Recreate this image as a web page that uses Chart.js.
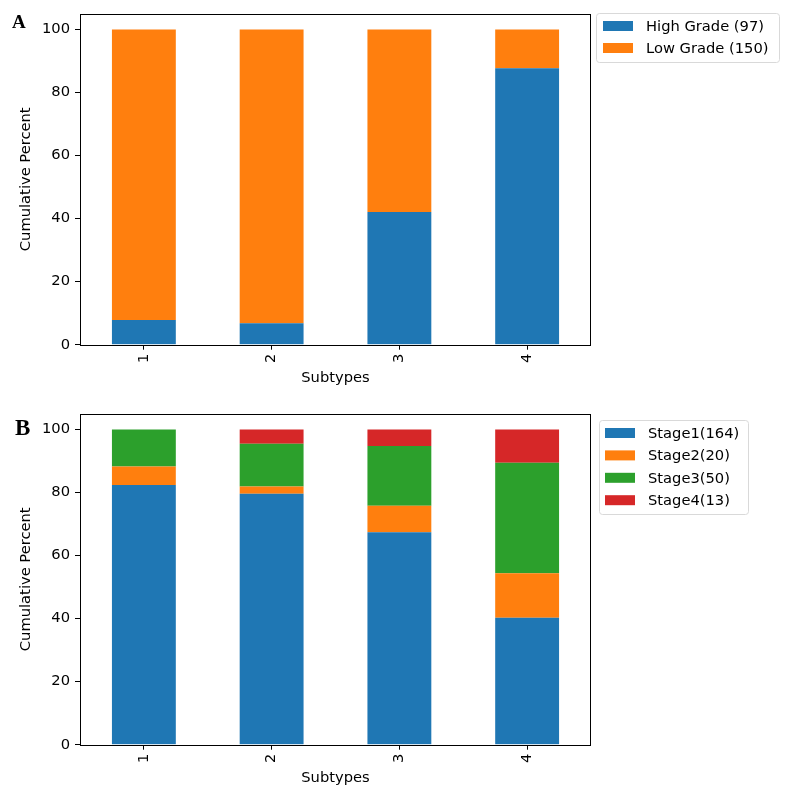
<!DOCTYPE html>
<html>
<head>
<meta charset="utf-8">
<script src="https://cdn.jsdelivr.net/npm/chart.js@4/dist/chart.umd.min.js"></script>
<style>
  html, body { margin: 0; padding: 0; background: #fff; overflow: hidden; }
  .panel { position: absolute; left: 0; width: 792px; height: 400px; }
  .lbl { position: absolute; font-family: "Liberation Serif", "DejaVu Serif", serif; font-weight: bold; color: #000; line-height: 1; }
</style>
</head>
<body>
<div class="panel" style="top:0"><canvas id="c1" width="792" height="400"></canvas></div>
<div class="panel" style="top:400px"><canvas id="c2" width="792" height="400"></canvas></div>
<div class="lbl" style="left:12px; top:12px; font-size:19px;">A</div>
<div class="lbl" style="left:15px; top:416px; font-size:23px;">B</div>
<script>
// ---- data ----
const subtypes = ['1', '2', '3', '4'];
const gradeLabels = ['High Grade (97)', 'Low Grade (150)'];
const highGrade = [7.8, 6.8, 42.1, 87.7];
const lowGrade = [92.2, 93.2, 57.9, 12.3];
const stageLabels = ['Stage1(164)', 'Stage2(20)', 'Stage3(50)', 'Stage4(13)'];
const stage1 = [82.4, 79.6, 67.4, 40.3];
const stage2 = [5.9, 2.3, 8.4, 14.1];
const stage3 = [11.7, 13.6, 19.0, 35.1];
const stage4 = [0.0, 4.5, 5.2, 10.5];
const yTicks = [0, 20, 40, 60, 80, 100];

const colors = ['#1f77b4', '#ff7f0e', '#2ca02c', '#d62728'];
const FONT = 'DejaVu Sans';
const FS = 14.7;

function framePlugin(legendBox) {
  return {
    id: 'frame',
    afterDraw(chart) {
      const ctx = chart.ctx;
      const a = chart.chartArea;
      ctx.save();
      ctx.strokeStyle = '#000';
      ctx.lineWidth = 1;
      ctx.strokeRect(Math.round(a.left) + 0.5, Math.round(a.top) + 0.5,
                     Math.round(a.right - a.left) - 1, Math.round(a.bottom - a.top));
      // legend
      const b = legendBox;
      ctx.fillStyle = 'rgba(255,255,255,0.8)';
      ctx.strokeStyle = '#d9d9d9';
      ctx.lineWidth = 1;
      ctx.beginPath();
      if (ctx.roundRect) ctx.roundRect(b.x + 0.5, b.y + 0.5, b.w, b.h, 3);
      else ctx.rect(b.x + 0.5, b.y + 0.5, b.w, b.h);
      ctx.fill();
      ctx.stroke();
      ctx.font = FS + 'px "' + FONT + '"';
      ctx.textBaseline = 'middle';
      ctx.textAlign = 'left';
      chart.data.datasets.forEach((ds, i) => {
        const cy = b.firstY + i * b.step;
        ctx.fillStyle = ds.backgroundColor;
        ctx.fillRect(b.px, cy - 5, 30, 10);
        ctx.fillStyle = '#000';
        ctx.fillText(ds.label, b.tx, cy + 1);
      });
      ctx.restore();
    }
  };
}

function makeChart(id, datasets, legendBox) {
  return new Chart(document.getElementById(id), {
    type: 'bar',
    data: { labels: subtypes, datasets },
    options: {
      responsive: false,
      animation: false,
      devicePixelRatio: 1,
      layout: { padding: { left: 0, right: 201, top: 13, bottom: 0 } },
      plugins: { legend: { display: false }, tooltip: { enabled: false } },
      datasets: { bar: { categoryPercentage: 1.0, barPercentage: 0.5 } },
      scales: {
        x: {
          stacked: true,
          offset: true,
          grid: { display: true, drawOnChartArea: false, offset: false, tickLength: 5, color: '#000', lineWidth: 1 },
          border: { display: false },
          ticks: { minRotation: 90, maxRotation: 90, padding: 4, color: '#000', font: { family: FONT, size: FS } },
          title: { display: true, text: 'Subtypes', color: '#000', font: { family: FONT, size: FS }, padding: { top: 0, bottom: 13 } },
          afterFit(s) { s.height = 400 - 13 - 331.7; }
        },
        y: {
          stacked: true,
          min: 0,
          max: 105,
          afterBuildTicks(s) { s.ticks = yTicks.map(v => ({ value: v })); },
          grid: { display: true, drawOnChartArea: false, tickLength: 5, color: '#000', lineWidth: 1 },
          border: { display: false },
          ticks: { padding: 5, color: '#000', font: { family: FONT, size: FS } },
          title: { display: true, text: 'Cumulative Percent', color: '#000', font: { family: FONT, size: FS }, padding: { top: 17, bottom: 0 } },
          afterFit(s) { s.width = 80; }
        }
      }
    },
    plugins: [framePlugin(legendBox)]
  });
}

makeChart('c1', [
  { label: gradeLabels[0], data: highGrade, backgroundColor: colors[0] },
  { label: gradeLabels[1], data: lowGrade, backgroundColor: colors[1] }
], { x: 596, y: 13, w: 183, h: 49, px: 603, tx: 646, firstY: 26, step: 22 });

makeChart('c2', [
  { label: stageLabels[0], data: stage1, backgroundColor: colors[0] },
  { label: stageLabels[1], data: stage2, backgroundColor: colors[1] },
  { label: stageLabels[2], data: stage3, backgroundColor: colors[2] },
  { label: stageLabels[3], data: stage4, backgroundColor: colors[3] }
], { x: 599, y: 20, w: 149, h: 94, px: 605, tx: 648, firstY: 33, step: 22.4 });
</script>
</body>
</html>
